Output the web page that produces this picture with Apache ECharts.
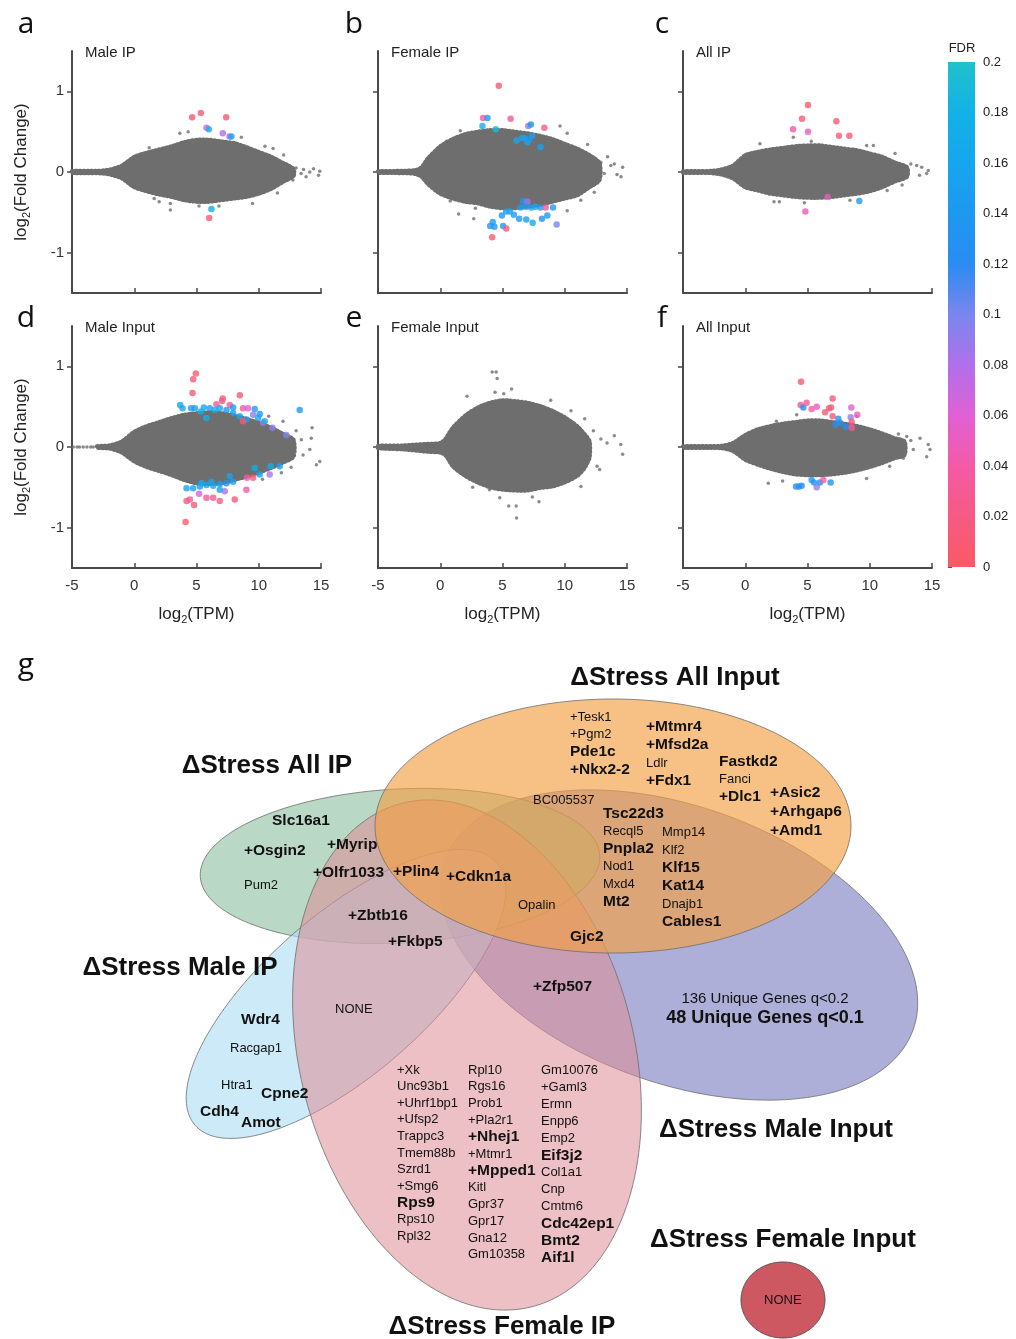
<!DOCTYPE html>
<html><head><meta charset="utf-8">
<script src="https://cdn.jsdelivr.net/npm/echarts@6/dist/echarts.min.js"></script>
<style>html,body{margin:0;padding:0;background:#fff}#c{width:1016px;height:1339px}</style>
</head><body><div id="c"></div>
<script>
// ---------------- DATA ----------------
const panelNames = ['Male IP','Female IP','All IP','Male Input','Female Input','All Input'];
const panelLetters = ['a','b','c','d','e','f'];
const xTicks = [-5,0,5,10,15];
const yTicks = [-1,0,1];
const fdrTicks = [0,0.02,0.04,0.06,0.08,0.1,0.12,0.14,0.16,0.18,0.2];

// dense grey cloud: outline (x, upper edge, lower edge)
const cloudX_a = [-5,-3,-2,-1,0,1,2,3,4,5,6,7,8,9,10,11,12,12.8];
const upper_a  = [0.012,0.015,0.03,0.08,0.19,0.24,0.28,0.32,0.37,0.4,0.4,0.38,0.36,0.31,0.25,0.19,0.11,0.04];
const lower_a  = [-0.012,-0.015,-0.03,-0.08,-0.19,-0.24,-0.28,-0.31,-0.35,-0.37,-0.37,-0.35,-0.33,-0.31,-0.27,-0.21,-0.12,-0.05];

const cloudX_b = [-5,-3,-2,-1.5,-1,0,1,2,3,4,5,6,7,8,9,10,11,12,12.8];
const upper_b  = [0.01,0.015,0.025,0.06,0.17,0.32,0.41,0.47,0.5,0.52,0.52,0.5,0.48,0.45,0.41,0.35,0.29,0.21,0.11];
const lower_b  = [-0.01,-0.015,-0.025,-0.06,-0.15,-0.27,-0.33,-0.37,-0.39,-0.43,-0.45,-0.45,-0.43,-0.41,-0.37,-0.33,-0.29,-0.19,-0.1];

const cloudX_c = [-5,-3,-2,-1,0,1,2,3,4,5,6,7,8,9,10,11,12,13];
const upper_c  = [0.01,0.012,0.03,0.08,0.21,0.25,0.28,0.3,0.32,0.33,0.33,0.31,0.29,0.27,0.23,0.19,0.12,0.06];
const lower_c  = [-0.01,-0.012,-0.03,-0.08,-0.19,-0.23,-0.27,-0.29,-0.31,-0.32,-0.32,-0.31,-0.29,-0.27,-0.24,-0.19,-0.12,-0.06];

const cloudX_d = [-3,-2,-1,0,1,2,3,4,5,6,7,8,9,10,11,12,12.8];
const upper_d  = [0.01,0.02,0.07,0.19,0.26,0.31,0.36,0.4,0.42,0.43,0.42,0.39,0.35,0.3,0.24,0.16,0.09];
const lower_d  = [-0.01,-0.02,-0.07,-0.18,-0.25,-0.3,-0.35,-0.41,-0.45,-0.46,-0.45,-0.41,-0.37,-0.32,-0.26,-0.19,-0.12];

const cloudX_e = [-5,-3,-1,0,0.4,1,2,3,4,5,6,7,8,9,10,11,11.6,12];
const upper_e  = [0.015,0.02,0.04,0.05,0.1,0.24,0.39,0.49,0.55,0.58,0.57,0.55,0.51,0.45,0.37,0.26,0.16,0.07];
const lower_e  = [-0.015,-0.03,-0.06,-0.07,-0.1,-0.24,-0.36,-0.44,-0.5,-0.53,-0.54,-0.54,-0.51,-0.49,-0.44,-0.36,-0.26,-0.13];

const cloudX_f = [-5,-2,-1,0,1,2,3,4,5,6,7,8,9,10,11,12,12.8];
const upper_f  = [0.01,0.015,0.05,0.15,0.22,0.26,0.29,0.31,0.33,0.33,0.31,0.29,0.26,0.22,0.17,0.11,0.07];
const lower_f  = [-0.01,-0.015,-0.05,-0.16,-0.22,-0.27,-0.31,-0.34,-0.35,-0.35,-0.34,-0.32,-0.29,-0.25,-0.2,-0.14,-0.1];

// scattered grey genes outside the dense core [log2 TPM, log2 FC]
const grey_a = [[2.0,-0.37],[2.9,-0.39],[2.9,-0.47],[9.5,-0.39],[12.0,0.21],[12.75,-0.1],[13.4,-0.02],[14.1,0.0],[14.8,-0.04],[14.9,0.01],[13.8,-0.06],[11.15,0.29],[3.66,0.48],[4.33,0.5],[13.0,0.05],[13.6,0.03],[14.4,0.04],[1.2,0.3],[1.6,-0.33],[10.5,0.32],[11.5,-0.26],[8.6,0.43],[6.8,-0.42],[5.2,-0.42]];
const grey_b = [[1.61,0.51],[2.69,-0.58],[1.48,-0.52],[9.62,0.57],[10.2,0.48],[11.83,0.34],[13.44,0.19],[13.98,0.1],[14.65,0.06],[14.52,-0.06],[13.17,-0.02],[12.37,-0.25],[11.29,-0.35],[10.2,-0.48],[2.82,-0.45],[13.7,0.08],[14.2,-0.03],[12.9,0.12],[0.5,0.38],[0.8,-0.36]];
const grey_c = [[1.18,0.35],[2.31,-0.37],[2.74,-0.37],[4.75,-0.38],[9.75,0.33],[10.29,0.33],[12.03,0.23],[13.77,0.08],[14.17,0.06],[14.7,0.02],[14.57,-0.02],[8.41,-0.35],[3.86,0.43],[13.3,0.1],[14.0,-0.04],[11.4,-0.23],[12.6,-0.16],[5.3,0.38]];
const grey_d = [[14.22,0.11],[13.42,0.09],[14.9,-0.18],[14.63,-0.22],[13.56,-0.1],[14.1,-0.03],[11.95,0.32],[11.82,-0.32],[14.28,0.24],[0.72,0.24],[1.79,0.22],[1.0,-0.22],[-4.9,0],[-4.6,0],[-4.4,0],[-4.1,0],[-3.8,0],[-3.5,0],[-3.3,0],[13.0,0.2],[12.6,-0.25],[10.8,0.38],[10.3,-0.4]];
const grey_e = [[4.17,0.93],[4.49,0.93],[4.57,0.85],[2.15,0.63],[5.73,0.72],[8.87,0.58],[5.5,-0.73],[6.13,-0.88],[6.1,-0.73],[7.93,-0.68],[4.78,-0.63],[3.95,-0.53],[13.98,0.14],[14.5,0.03],[14.65,-0.09],[12.6,-0.24],[12.8,-0.28],[11.3,-0.49],[12.9,0.1],[13.4,0.05],[12.3,0.2],[10.5,0.45],[11.6,0.35],[2.6,-0.5],[4.4,0.68],[5.1,0.66],[7.4,-0.62]];
const grey_f = [[1.45,0.21],[1.85,-0.45],[12.97,0.13],[14.04,0.11],[14.7,0.03],[14.84,-0.03],[14.57,-0.12],[12.7,-0.14],[13.5,-0.03],[4.13,0.4],[9.75,-0.39],[8.95,0.38],[13.3,0.08],[12.3,0.16],[11.6,-0.24],[3.0,-0.42],[2.5,0.32]];

// significant genes [log2 TPM, log2 FC, FDR]
const sig_a = [[4.65,0.68,0.01],[5.35,0.73,0.01],[7.38,0.68,0.01],[5.8,0.55,0.07],[5.99,0.53,0.17],[7.11,0.48,0.08],[7.65,0.44,0.08],[7.8,0.44,0.16],[6.2,-0.46,0.17],[6.02,-0.57,0.01]];
const sig_b = [[4.7,1.07,0.005],[3.44,0.67,0.04],[3.79,0.67,0.14],[3.39,0.57,0.17],[4.46,0.53,0.19],[5.65,0.66,0.03],[7.07,0.57,0.09],[7.28,0.59,0.13],[8.36,0.55,0.03],[6.13,0.39,0.16],[6.59,0.42,0.16],[6.8,0.42,0.15],[6.99,0.37,0.16],[7.15,0.4,0.14],[7.39,0.45,0.15],[8.06,0.31,0.15],[6.67,-0.36,0.14],[7.0,-0.37,0.09],[6.45,-0.44,0.15],[6.88,-0.43,0.14],[7.31,-0.44,0.15],[7.66,-0.43,0.16],[8.06,-0.44,0.15],[8.47,-0.44,0.03],[9.06,-0.44,0.14],[5.3,-0.49,0.15],[5.59,-0.49,0.16],[4.95,-0.54,0.14],[5.91,-0.53,0.15],[6.34,-0.58,0.14],[6.91,-0.59,0.15],[7.42,-0.63,0.16],[8.17,-0.58,0.13],[8.6,-0.54,0.14],[4.22,-0.62,0.15],[4.01,-0.67,0.13],[4.35,-0.68,0.14],[5.05,-0.67,0.14],[5.3,-0.7,0.01],[4.17,-0.81,0.01],[9.35,-0.65,0.1]];
const sig_c = [[5.04,0.83,0.005],[4.56,0.66,0.01],[7.32,0.63,0.01],[3.84,0.53,0.04],[5.04,0.5,0.05],[7.53,0.45,0.01],[8.36,0.45,0.01],[6.62,-0.31,0.05],[9.16,-0.36,0.14],[4.83,-0.49,0.05]];
const sig_d = [[4.95,0.91,0.005],[4.73,0.84,0.01],[4.68,0.67,0.01],[8.48,0.64,0.01],[7.11,0.6,0.01],[7.06,0.57,0.02],[6.6,0.53,0.03],[7.67,0.52,0.03],[3.69,0.52,0.16],[3.88,0.48,0.16],[4.57,0.48,0.14],[4.87,0.48,0.15],[5.59,0.49,0.16],[6.07,0.48,0.15],[6.47,0.46,0.17],[6.87,0.48,0.16],[7.41,0.46,0.15],[7.94,0.49,0.14],[8.74,0.48,0.04],[9.14,0.48,0.06],[9.68,0.47,0.15],[7.94,0.42,0.15],[8.48,0.38,0.16],[9.01,0.34,0.15],[9.55,0.4,0.09],[9.95,0.36,0.16],[10.08,0.41,0.14],[8.74,0.32,0.01],[10.35,0.3,0.08],[10.48,0.32,0.17],[11.1,0.24,0.09],[12.22,0.15,0.1],[13.29,0.46,0.14],[5.35,0.44,0.18],[5.8,0.36,0.17],[10.96,-0.24,0.17],[11.68,-0.24,0.15],[10.08,-0.34,0.16],[10.88,-0.34,0.08],[9.68,-0.26,0.17],[9.55,-0.38,0.01],[7.67,-0.36,0.15],[7.94,-0.43,0.15],[7.41,-0.45,0.14],[6.87,-0.46,0.15],[6.34,-0.48,0.16],[5.8,-0.47,0.15],[5.27,-0.49,0.14],[4.73,-0.51,0.15],[4.2,-0.51,0.16],[5.4,-0.45,0.17],[6.2,-0.43,0.16],[9.06,-0.38,0.04],[9.01,-0.53,0.04],[7.27,-0.55,0.08],[6.87,-0.53,0.15],[5.21,-0.58,0.06],[5.8,-0.63,0.03],[6.34,-0.63,0.03],[6.87,-0.67,0.02],[8.07,-0.65,0.01],[4.2,-0.67,0.01],[4.47,-0.65,0.03],[4.81,-0.72,0.01],[4.12,-0.93,0.005]];
const sig_e = [];
const sig_f = [[4.48,0.81,0.005],[4.45,0.52,0.03],[4.67,0.49,0.12],[4.93,0.55,0.03],[5.33,0.47,0.04],[5.74,0.5,0.05],[7.02,0.6,0.01],[6.41,0.43,0.01],[6.73,0.48,0.02],[6.89,0.49,0.01],[7.02,0.38,0.01],[7.48,0.35,0.13],[7.26,0.28,0.12],[7.61,0.3,0.13],[8.09,0.25,0.12],[8.47,0.37,0.09],[8.52,0.49,0.06],[9.0,0.4,0.05],[8.55,0.31,0.01],[8.55,0.24,0.03],[4.08,-0.49,0.12],[4.32,-0.49,0.13],[4.53,-0.48,0.12],[5.33,-0.41,0.14],[5.52,-0.44,0.13],[5.74,-0.5,0.09],[6.0,-0.44,0.13],[6.27,-0.41,0.04],[6.86,-0.44,0.13]];

// Venn diagram (panel g)
const vennSetNames = ['ΔStress All Input','ΔStress All IP','ΔStress Male IP','ΔStress Male Input','ΔStress Female Input','ΔStress Female IP'];
const allInputCol1 = ['+Tesk1','+Pgm2','Pde1c','+Nkx2-2'];
const allInputCol2 = ['+Mtmr4','+Mfsd2a','Ldlr','+Fdx1'];
const allInputCol3 = ['Fastkd2','Fanci','+Dlc1'];
const allInputCol4 = ['+Asic2','+Arhgap6','+Amd1'];
const inputSharedCol1 = ['Tsc22d3','Recql5','Pnpla2','Nod1','Mxd4','Mt2'];
const inputSharedCol2 = ['Mmp14','Klf2','Klf15','Kat14','Dnajb1','Cables1'];
const femaleIPCol1 = ['+Xk','Unc93b1','+Uhrf1bp1','+Ufsp2','Trappc3','Tmem88b','Szrd1','+Smg6','Rps9','Rps10','Rpl32'];
const femaleIPCol2 = ['Rpl10','Rgs16','Prob1','+Pla2r1','+Nhej1','+Mtmr1','+Mpped1','Kitl','Gpr37','Gpr17','Gna12','Gm10358'];
const femaleIPCol3 = ['Gm10076','+Gaml3','Ermn','Enpp6','Emp2','Eif3j2','Col1a1','Cnp','Cmtm6','Cdc42ep1','Bmt2','Aif1l'];
const singleGenes = ['BC005537','Opalin','Gjc2','Slc16a1','+Osgin2','Pum2','+Myrip','+Olfr1033','+Plin4','+Cdkn1a','+Zbtb16','+Fkbp5','+Zfp507','Wdr4','Racgap1','Htra1','Cpne2','Cdh4','Amot','NONE','NONE'];
const boldGenes = ['Pde1c','+Nkx2-2','+Mtmr4','+Mfsd2a','+Fdx1','Fastkd2','+Dlc1','+Asic2','+Arhgap6','+Amd1','Tsc22d3','Pnpla2','Mt2','Klf15','Kat14','Cables1','Gjc2','Slc16a1','+Osgin2','+Myrip','+Olfr1033','+Plin4','+Cdkn1a','+Zbtb16','+Fkbp5','+Zfp507','Wdr4','Cpne2','Cdh4','Amot','Rps9','+Nhej1','+Mpped1','Eif3j2','Cdc42ep1','Bmt2','Aif1l'];
const maleInputNotes = ['136 Unique Genes q<0.2','48 Unique Genes q<0.1'];

// ---------------- LAYOUT / STYLE ----------------
const FONT = '"Liberation Sans", Arial, sans-serif';
const AX = '#4a4a4a';
const GREY = '#6e6e6e';
const fdrColors = ['#fa5a64','#f65a84','#f45aa6','#e060d4','#b070ea','#7a86ee','#2a8cf2','#1e98f0','#16a6ee','#12b2e6','#20c0cc'];
const colLeft = [72,378,683], rowTop = [51,326], gridW = 249, gridH = 242;

const clouds = [[cloudX_a,upper_a,lower_a],[cloudX_b,upper_b,lower_b],[cloudX_c,upper_c,lower_c],[cloudX_d,upper_d,lower_d],[cloudX_e,upper_e,lower_e],[cloudX_f,upper_f,lower_f]];
const greys = [grey_a,grey_b,grey_c,grey_d,grey_e,grey_f];
const sigs = [sig_a,sig_b,sig_c,sig_d,sig_e,sig_f];

const grid=[], xAxis=[], yAxis=[], series=[], graphic=[];
const sub = (main, tail, fs) => ({
  name: '{t|' + main + '}{s|2}{t|' + tail + '}',
  rich: { t:{fontSize:fs, fontFamily:FONT, color:'#222', lineHeight:22, verticalAlign:'middle'},
          s:{fontSize:11, fontFamily:FONT, color:'#222', lineHeight:22, verticalAlign:'bottom'} }
});

for (let i=0;i<6;i++){
  const r = Math.floor(i/3), c = i%3;
  grid.push({left:colLeft[c], top:rowTop[r], width:gridW, height:gridH});
  const xn = sub('log','(TPM)',17), yn = sub('log','(Fold Change)',17);
  xAxis.push({gridIndex:i, type:'value', min:-5, max:15, interval:5,
    axisLine:{onZero:false, lineStyle:{color:AX,width:2}}, axisTick:{inside:true,length:5,lineStyle:{color:AX,width:1.5}},
    axisLabel:{show:r===1, fontSize:15, color:'#333', fontFamily:FONT, margin:10},
    splitLine:{show:false},
    name: r===1 ? xn.name : '', nameLocation:'middle', nameGap:35,
    nameTextStyle:{rich:xn.rich}});
  yAxis.push({gridIndex:i, type:'value', min:-1.5, max:1.5,
    axisLine:{show:true, onZero:false, lineStyle:{color:AX,width:2}},
    axisTick:{show:true, length:5, customValues:yTicks, lineStyle:{color:AX,width:1.5}},
    axisLabel:{show:c===0, customValues:yTicks, fontSize:15, color:'#333', fontFamily:FONT, margin:8},
    splitLine:{show:false},
    name: c===0 ? yn.name : '', nameLocation:'middle', nameGap:40, nameRotate:90,
    nameTextStyle:{rich:yn.rich}});
  const [cx, cu, cl] = clouds[i];
  series.push({type:'custom', xAxisIndex:i, yAxisIndex:i, silent:true, z:2,
    data: cx.map((x,k)=>[x, cu[k], cl[k]]),
    encode:{x:0, y:[1,2]},
    renderItem:(params, api)=>{
      if (params.dataIndexInside !== 0) return null;
      const n = params.dataInsideLength, top=[], bot=[];
      for (let k=0;k<n;k++){ const x=api.value(0,k); top.push(api.coord([x,api.value(1,k)])); bot.push(api.coord([x,api.value(2,k)])); }
      return {type:'polygon', shape:{points:top.concat(bot.reverse()), smooth:0.25},
        style:{fill:GREY, stroke:GREY, lineWidth:4, lineDash:[1.2,2.6], lineCap:'round'}};
    }});
  series.push({type:'scatter', xAxisIndex:i, yAxisIndex:i, silent:true, z:3, symbolSize:3.5,
    itemStyle:{color:GREY}, data:greys[i]});
  series.push({type:'scatter', xAxisIndex:i, yAxisIndex:i, silent:true, z:4, symbolSize:6.5,
    data:sigs[i]});
  graphic.push({type:'text', x:[26,354,662][c], y:[24,318][r], z:10,
    style:{text:panelLetters[i], font:'30px "Open Sans", sans-serif', fill:'#111', align:'center', verticalAlign:'middle', textAlign:'center', textVerticalAlign:'middle'}});
  graphic.push({type:'text', x:colLeft[c]+13, y:rowTop[r]+2, z:10,
    style:{text:panelNames[i], font:'15px '+FONT, fill:'#222', align:'left', verticalAlign:'middle', textAlign:'left', textVerticalAlign:'middle'}});
}

// colorbar axis (labels) + gradient
grid.push({left:948, top:62, width:27, height:505});
xAxis.push({gridIndex:6, type:'value', show:false, min:0, max:1});
yAxis.push({gridIndex:6, type:'value', min:0, max:0.2, interval:0.02, position:'right',
  axisLine:{show:false}, axisTick:{show:true, length:4, lineStyle:{color:'#555'}},
  axisLabel:{fontSize:13, color:'#222', fontFamily:FONT, margin:8, formatter:v=>String(+v.toFixed(2))},
  splitLine:{show:false}});
series.push({type:'scatter', xAxisIndex:6, yAxisIndex:6, data:[], silent:true});

graphic.push({type:'rect', shape:{x:948, y:62, width:27, height:505}, z:1,
  style:{fill:{type:'linear', x:0, y:1, x2:0, y2:0,
    colorStops: fdrColors.map((col,k)=>({offset:k/(fdrColors.length-1), color:col}))}}});
graphic.push({type:'text', x:962, y:48, style:{text:'FDR', font:'13px '+FONT, fill:'#222', align:'center', verticalAlign:'middle', textAlign:'center', textVerticalAlign:'middle'}});

graphic.push({type:'text', x:26, y:665, z:10,
  style:{text:'g', font:'30px "Open Sans", sans-serif', fill:'#111', align:'center', verticalAlign:'middle', textAlign:'center', textVerticalAlign:'middle'}});

// Venn ellipses: [cx, cy, rx, ry, rotation (deg, counter-clockwise), fill]
function ellipsePts(cx,cy,rx,ry,deg){
  const r=deg*Math.PI/180, pts=[];
  for(let k=0;k<180;k++){ const t=2*Math.PI*k/180, ex=rx*Math.cos(t), ey=ry*Math.sin(t);
    pts.push([cx+ex*Math.cos(r)+ey*Math.sin(r), cy-ex*Math.sin(r)+ey*Math.cos(r)]); }
  return pts;
}
const ellipses = [
  [679,945,249,138,-20,'rgba(118,122,190,0.6)'],   // Male Input
  [400,866,200,77,3,'rgba(140,190,160,0.6)'],      // All IP
  [346,994,200,80,41,'rgba(177,223,243,0.65)'],    // Male IP
  [467,1055,167,260,14.6,'rgba(222,140,150,0.55)'],// Female IP
  [613,826,238,127,0,'rgba(243,160,68,0.66)'],     // All Input
  [783,1300,42,38,0,'rgba(206,88,98,1)']           // Female Input
];
ellipses.forEach(e=>{
  graphic.push({type:'polygon', z:2, shape:{points:ellipsePts(e[0],e[1],e[2],e[3],e[4])},
    style:{fill:e[5], stroke: e[2]===42 ? '#555' : 'rgba(110,110,110,0.8)', lineWidth:1}});
});

const titlePos = [[675,678],[267,766],[180,968],[776,1130],[783,1240],[502,1327]];
vennSetNames.forEach((t,k)=>graphic.push({type:'text', x:titlePos[k][0], y:titlePos[k][1], z:10,
  style:{text:t, font:'bold 26px '+FONT, fill:'#111', align:'center', verticalAlign:'middle', textAlign:'center', textVerticalAlign:'middle'}}));

function geneText(name,x,y){
  const b = boldGenes.includes(name);
  graphic.push({type:'text', x, y, z:11,
    style:{text:name, font:(b?'bold 15.5px ':'13px ')+FONT, fill:'#111', align:'left', verticalAlign:'middle', textAlign:'left', textVerticalAlign:'middle'}});
}
const columns = [
  [allInputCol1,570,717,17.6],[allInputCol2,646,727,18],[allInputCol3,719,762,17.5],[allInputCol4,770,793,19],
  [inputSharedCol1,603,814,17.6],[inputSharedCol2,662,832,18],
  [femaleIPCol1,397,1070,16.6],[femaleIPCol2,468,1070,16.8],[femaleIPCol3,541,1070,17.1]
];
columns.forEach(([arr,x,y0,dy])=>arr.forEach((g,k)=>geneText(g,x,y0+k*dy)));
const singlePos = [[533,800],[518,905],[570,937],[272,821],[244,851],[244,885],[327,845],[313,873],[393,872],[446,877],[348,916],[388,942],[533,987],[241,1020],[230,1048],[221,1085],[261,1094],[200,1112],[241,1123],[335,1009],[764,1300]];
singleGenes.forEach((g,k)=>geneText(g,singlePos[k][0],singlePos[k][1]));
graphic.push({type:'text', x:765, y:999, z:11, style:{text:maleInputNotes[0], font:'15px '+FONT, fill:'#111', align:'center', verticalAlign:'middle', textAlign:'center', textVerticalAlign:'middle'}});
graphic.push({type:'text', x:765, y:1018, z:11, style:{text:maleInputNotes[1], font:'bold 18px '+FONT, fill:'#111', align:'center', verticalAlign:'middle', textAlign:'center', textVerticalAlign:'middle'}});

const chart = echarts.init(document.getElementById('c'), null, {renderer:'canvas'});
chart.setOption({
  animation:false,
  backgroundColor:'#fff',
  grid, xAxis, yAxis, series, graphic,
  visualMap:{type:'continuous', show:false, min:0, max:0.2, dimension:2,
    seriesIndex:[2,5,8,11,14,17], inRange:{color:fdrColors}}
});
</script></body></html>
